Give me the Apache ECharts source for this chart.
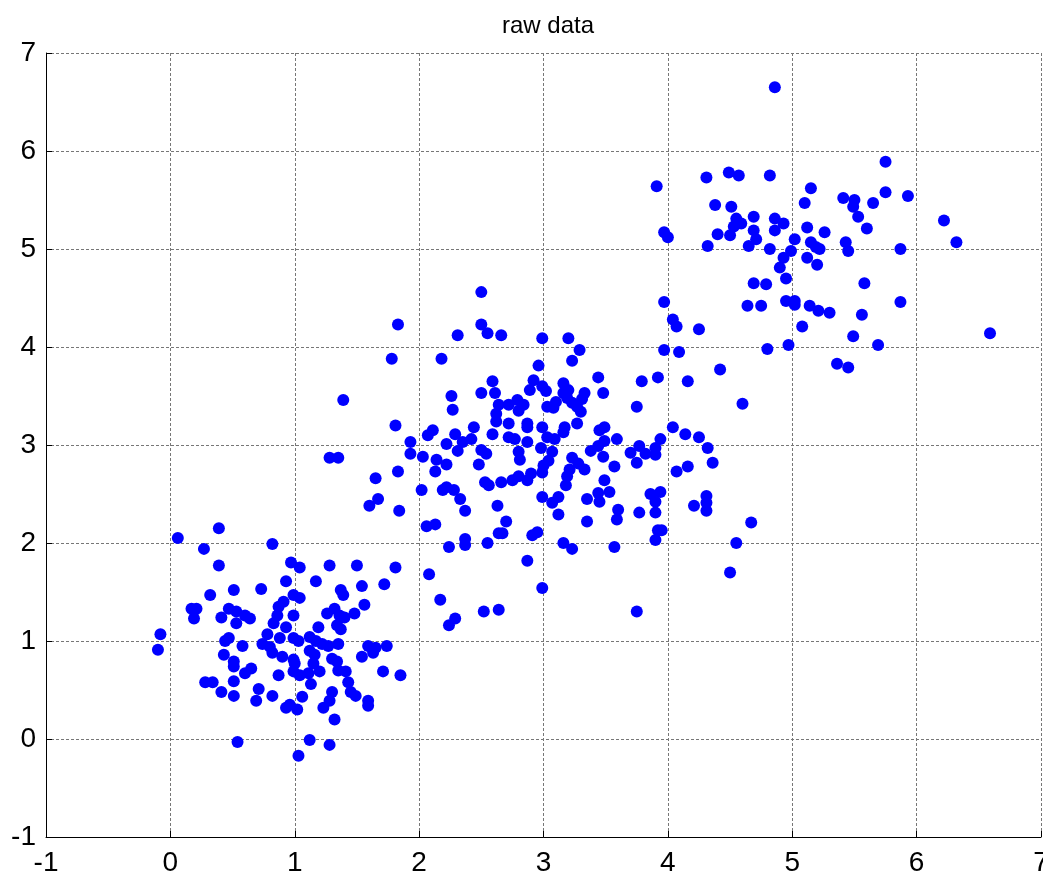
<!DOCTYPE html>
<html>
<head>
<meta charset="utf-8">
<title>raw data</title>
<script src="https://cdn.jsdelivr.net/npm/echarts@6/dist/echarts.min.js"></script>
<style>
  html, body { margin: 0; padding: 0; background: #fff; }
  #chart { width: 1043px; height: 877px; }
</style>
</head>
<body>
<div id="chart"></div>
<script>
// ticks on both axes
const tickValues = [-1, 0, 1, 2, 3, 4, 5, 6, 7];

// points, grouped by the three blobs
const clusterA = [
  [0.06,2.05],[0.39,2.15],[0.27,1.94],[0.82,1.99],[0.39,1.77],[0.97,1.80],[1.04,1.75],[0.93,1.61],[0.73,1.53],[0.51,1.52],
  [0.32,1.47],[0.99,1.47],[0.17,1.33],[0.21,1.33],[0.19,1.23],[0.47,1.33],[0.53,1.30],[0.41,1.24],[0.60,1.26],[0.64,1.23],
  [0.53,1.18],[0.87,1.35],[0.91,1.40],[0.86,1.26],[0.83,1.18],[0.99,1.26],[0.93,1.14],[-0.08,1.07],[-0.10,0.91],[0.44,1.00],
  [0.47,1.03],[0.58,0.95],[0.78,1.07],[0.74,0.97],[0.80,0.94],[0.82,0.88],[0.88,1.03],[0.99,1.03],[0.90,0.84],[0.43,0.86],
  [0.51,0.79],[0.51,0.74],[0.65,0.72],[0.60,0.67],[0.99,0.81],[0.99,0.69],[0.87,0.65],[0.51,0.59],[0.28,0.58],[0.34,0.58],
  [0.41,0.48],[0.51,0.44],[0.71,0.51],[0.69,0.39],[0.82,0.44],[0.93,0.32],[0.96,0.35],[1.02,0.30],[0.54,-0.03],[1.03,-0.17],
  [2.08,1.68],[1.28,1.77],[1.50,1.77],[1.81,1.75],[1.17,1.61],[1.37,1.52],[1.39,1.47],[1.54,1.56],[1.72,1.58],[1.04,1.44],
  [1.56,1.37],[1.32,1.33],[1.26,1.28],[1.36,1.26],[1.40,1.24],[1.48,1.28],[1.34,1.16],[1.37,1.12],[1.19,1.14],[1.03,1.00],
  [1.12,1.04],[1.17,1.00],[1.22,0.97],[1.27,0.95],[1.35,0.97],[1.12,0.90],[1.16,0.86],[1.15,0.77],[1.59,0.95],[1.65,0.93],
  [1.63,0.88],[1.74,0.95],[1.54,0.84],[1.00,0.77],[1.30,0.82],[1.34,0.79],[1.04,0.65],[1.11,0.67],[1.20,0.69],[1.35,0.70],
  [1.41,0.69],[1.13,0.56],[1.43,0.58],[1.71,0.69],[1.85,0.65],[1.30,0.48],[1.28,0.39],[1.45,0.48],[1.49,0.44],[1.59,0.39],
  [1.59,0.34],[1.06,0.43],[1.23,0.32],[1.32,0.20],[1.12,-0.01],[1.28,-0.06]
];

const clusterB = [
  [2.50,4.56],[1.83,4.23],[2.31,4.12],[2.50,4.23],[2.55,4.14],[2.66,4.12],[1.78,3.88],[2.18,3.88],[2.59,3.65],[2.61,3.53],
  [2.50,3.53],[2.26,3.50],[2.27,3.36],[2.64,3.41],[2.72,3.41],[2.79,3.46],[2.80,3.35],[2.62,3.32],[2.62,3.24],[2.72,3.22],
  [1.81,3.20],[2.11,3.15],[2.07,3.10],[2.44,3.18],[2.29,3.11],[2.59,3.11],[2.72,3.08],[2.77,3.06],[1.93,3.03],[2.22,3.01],
  [2.35,3.03],[2.42,3.06],[2.31,2.94],[2.50,2.95],[2.54,2.91],[1.93,2.91],[2.03,2.88],[2.14,2.85],[2.80,2.93],[1.39,3.46],
  [1.28,2.87],[1.35,2.87],[2.22,2.80],[2.13,2.73],[2.48,2.80],[2.81,2.85],[1.83,2.73],[1.65,2.66],[2.02,2.54],[2.19,2.54],
  [2.22,2.57],[2.28,2.54],[2.33,2.45],[2.53,2.62],[2.56,2.59],[2.66,2.62],[2.75,2.64],[2.80,2.68],[1.67,2.45],[1.60,2.38],
  [1.84,2.33],[2.37,2.33],[2.63,2.38],[2.70,2.22],[2.06,2.17],[2.13,2.19],[2.64,2.10],[2.67,2.10],[2.37,2.04],[2.37,1.98],
  [2.55,2.00],[2.24,1.96],[2.17,1.42],[2.52,1.30],[2.64,1.32],[2.29,1.23],[2.24,1.16],
  [3.97,4.46],[4.04,4.28],[4.07,4.21],[4.25,4.18],[2.99,4.09],[3.20,4.09],[3.29,3.97],[3.97,3.97],[4.09,3.95],[3.23,3.86],
  [2.96,3.81],[4.42,3.77],[3.44,3.69],[3.92,3.69],[3.79,3.65],[4.16,3.65],[2.92,3.66],[2.89,3.56],[2.99,3.60],[3.02,3.55],
  [3.16,3.63],[3.20,3.56],[3.16,3.53],[3.19,3.48],[3.23,3.43],[3.33,3.53],[3.31,3.47],[3.48,3.53],[2.84,3.41],[3.03,3.39],
  [3.10,3.44],[3.08,3.38],[3.27,3.39],[3.30,3.34],[3.75,3.39],[2.87,3.22],[2.87,3.18],[2.99,3.18],[3.17,3.18],[3.16,3.13],
  [3.27,3.22],[3.45,3.15],[3.49,3.18],[4.04,3.18],[4.14,3.11],[4.25,3.08],[4.32,2.97],[2.87,3.03],[3.03,3.08],[3.09,3.06],
  [3.59,3.06],[3.94,3.06],[3.49,3.04],[3.44,2.99],[3.38,2.94],[3.77,2.99],[3.90,2.97],[2.98,2.97],[3.07,2.93],[3.70,2.92],
  [3.82,2.91],[3.90,2.90],[3.48,2.88],[3.23,2.87],[3.04,2.84],[3.00,2.79],[2.99,2.72],[2.87,2.64],[2.90,2.71],[3.28,2.81],
  [3.21,2.75],[3.33,2.75],[3.19,2.68],[3.18,2.59],[3.57,2.78],[3.75,2.82],[3.49,2.64],[3.53,2.52],[3.44,2.51],[3.45,2.42],
  [3.35,2.45],[2.99,2.47],[3.12,2.47],[3.07,2.41],[3.12,2.29],[3.35,2.22],[3.60,2.34],[3.59,2.24],[3.77,2.31],[3.86,2.50],
  [3.94,2.52],[3.90,2.42],[3.90,2.31],[3.92,2.13],[3.95,2.13],[3.90,2.03],[4.07,2.73],[4.16,2.78],[4.36,2.82],[4.21,2.38],
  [4.31,2.48],[4.31,2.41],[4.31,2.33],[2.91,2.08],[2.95,2.11],[3.16,2.00],[3.23,1.94],[3.57,1.96],[2.87,1.82],[4.55,2.00],
  [4.50,1.70],[2.99,1.54],[3.75,1.30],[4.60,3.42],[4.67,2.21]
];

const clusterC = [
  [4.86,6.65],[3.91,5.64],[4.31,5.73],[4.49,5.78],[4.57,5.75],[4.82,5.75],[5.15,5.62],[5.10,5.47],[4.38,5.45],[4.51,5.43],
  [4.55,5.31],[4.59,5.26],[4.53,5.23],[4.50,5.14],[4.40,5.15],[4.69,5.33],[4.69,5.19],[4.71,5.10],[4.86,5.31],[4.93,5.26],
  [4.86,5.19],[4.65,5.03],[4.82,5.00],[5.02,5.10],[4.99,4.98],[4.93,4.91],[4.90,4.81],[4.95,4.70],[5.12,5.22],[5.15,5.07],
  [5.19,5.02],[5.12,4.91],[5.20,4.84],[3.97,5.17],[4.00,5.12],[4.32,5.03],[4.69,4.65],[4.79,4.64],[4.64,4.42],[4.75,4.42],
  [4.95,4.47],[5.02,4.47],[5.02,4.43],[5.14,4.42],[5.21,4.37],[5.08,4.21],[4.80,3.98],[4.97,4.02],[5.75,5.89],[5.75,5.58],
  [5.93,5.54],[5.41,5.52],[5.50,5.50],[5.49,5.43],[5.53,5.33],[5.65,5.47],[5.60,5.21],[5.26,5.17],[5.43,5.07],[5.45,4.98],
  [5.22,5.00],[5.87,5.00],[6.22,5.29],[6.32,5.07],[5.58,4.65],[5.87,4.46],[5.30,4.35],[5.56,4.33],[5.49,4.11],[5.69,4.02],
  [5.36,3.83],[5.45,3.79],[6.59,4.14]
];

const font = "'Liberation Sans', Arial, sans-serif";

var myChart = echarts.init(document.getElementById('chart'), null, { renderer: 'canvas' });

function makeAxis() {
  return {
    type: 'value',
    min: tickValues[0],
    max: tickValues[tickValues.length - 1],
    interval: 1,
    axisLine: { show: true, onZero: false, lineStyle: { color: '#000', width: 1 } },
    axisTick: { show: true, inside: true, length: 6, lineStyle: { color: '#000' } },
    axisLabel: { color: '#000', fontSize: 28, fontFamily: font },
    splitLine: { show: true, lineStyle: { color: '#777', type: [3, 2], width: 1 } }
  };
}

const xAxis = makeAxis();
xAxis.axisLabel.margin = 12;
const yAxis = makeAxis();
yAxis.axisLabel.margin = 10;

const option = {
  backgroundColor: '#fff',
  animation: false,
  title: {
    text: 'raw data',
    left: 543,
    top: 9,
    textAlign: 'center',
    textStyle: { color: '#000', fontSize: 24, fontWeight: 'normal', fontFamily: font }
  },
  grid: { left: 46, top: 53, right: 2, bottom: 40, containLabel: false, outerBoundsMode: 'none' },
  xAxis: xAxis,
  yAxis: yAxis,
  series: [
    {
      name: 'raw data',
      type: 'scatter',
      symbol: 'circle',
      symbolSize: 12,
      itemStyle: { color: '#0000ff', opacity: 1 },
      data: clusterA.concat(clusterB, clusterC)
    }
  ]
};

myChart.setOption(option);
</script>
</body>
</html>
